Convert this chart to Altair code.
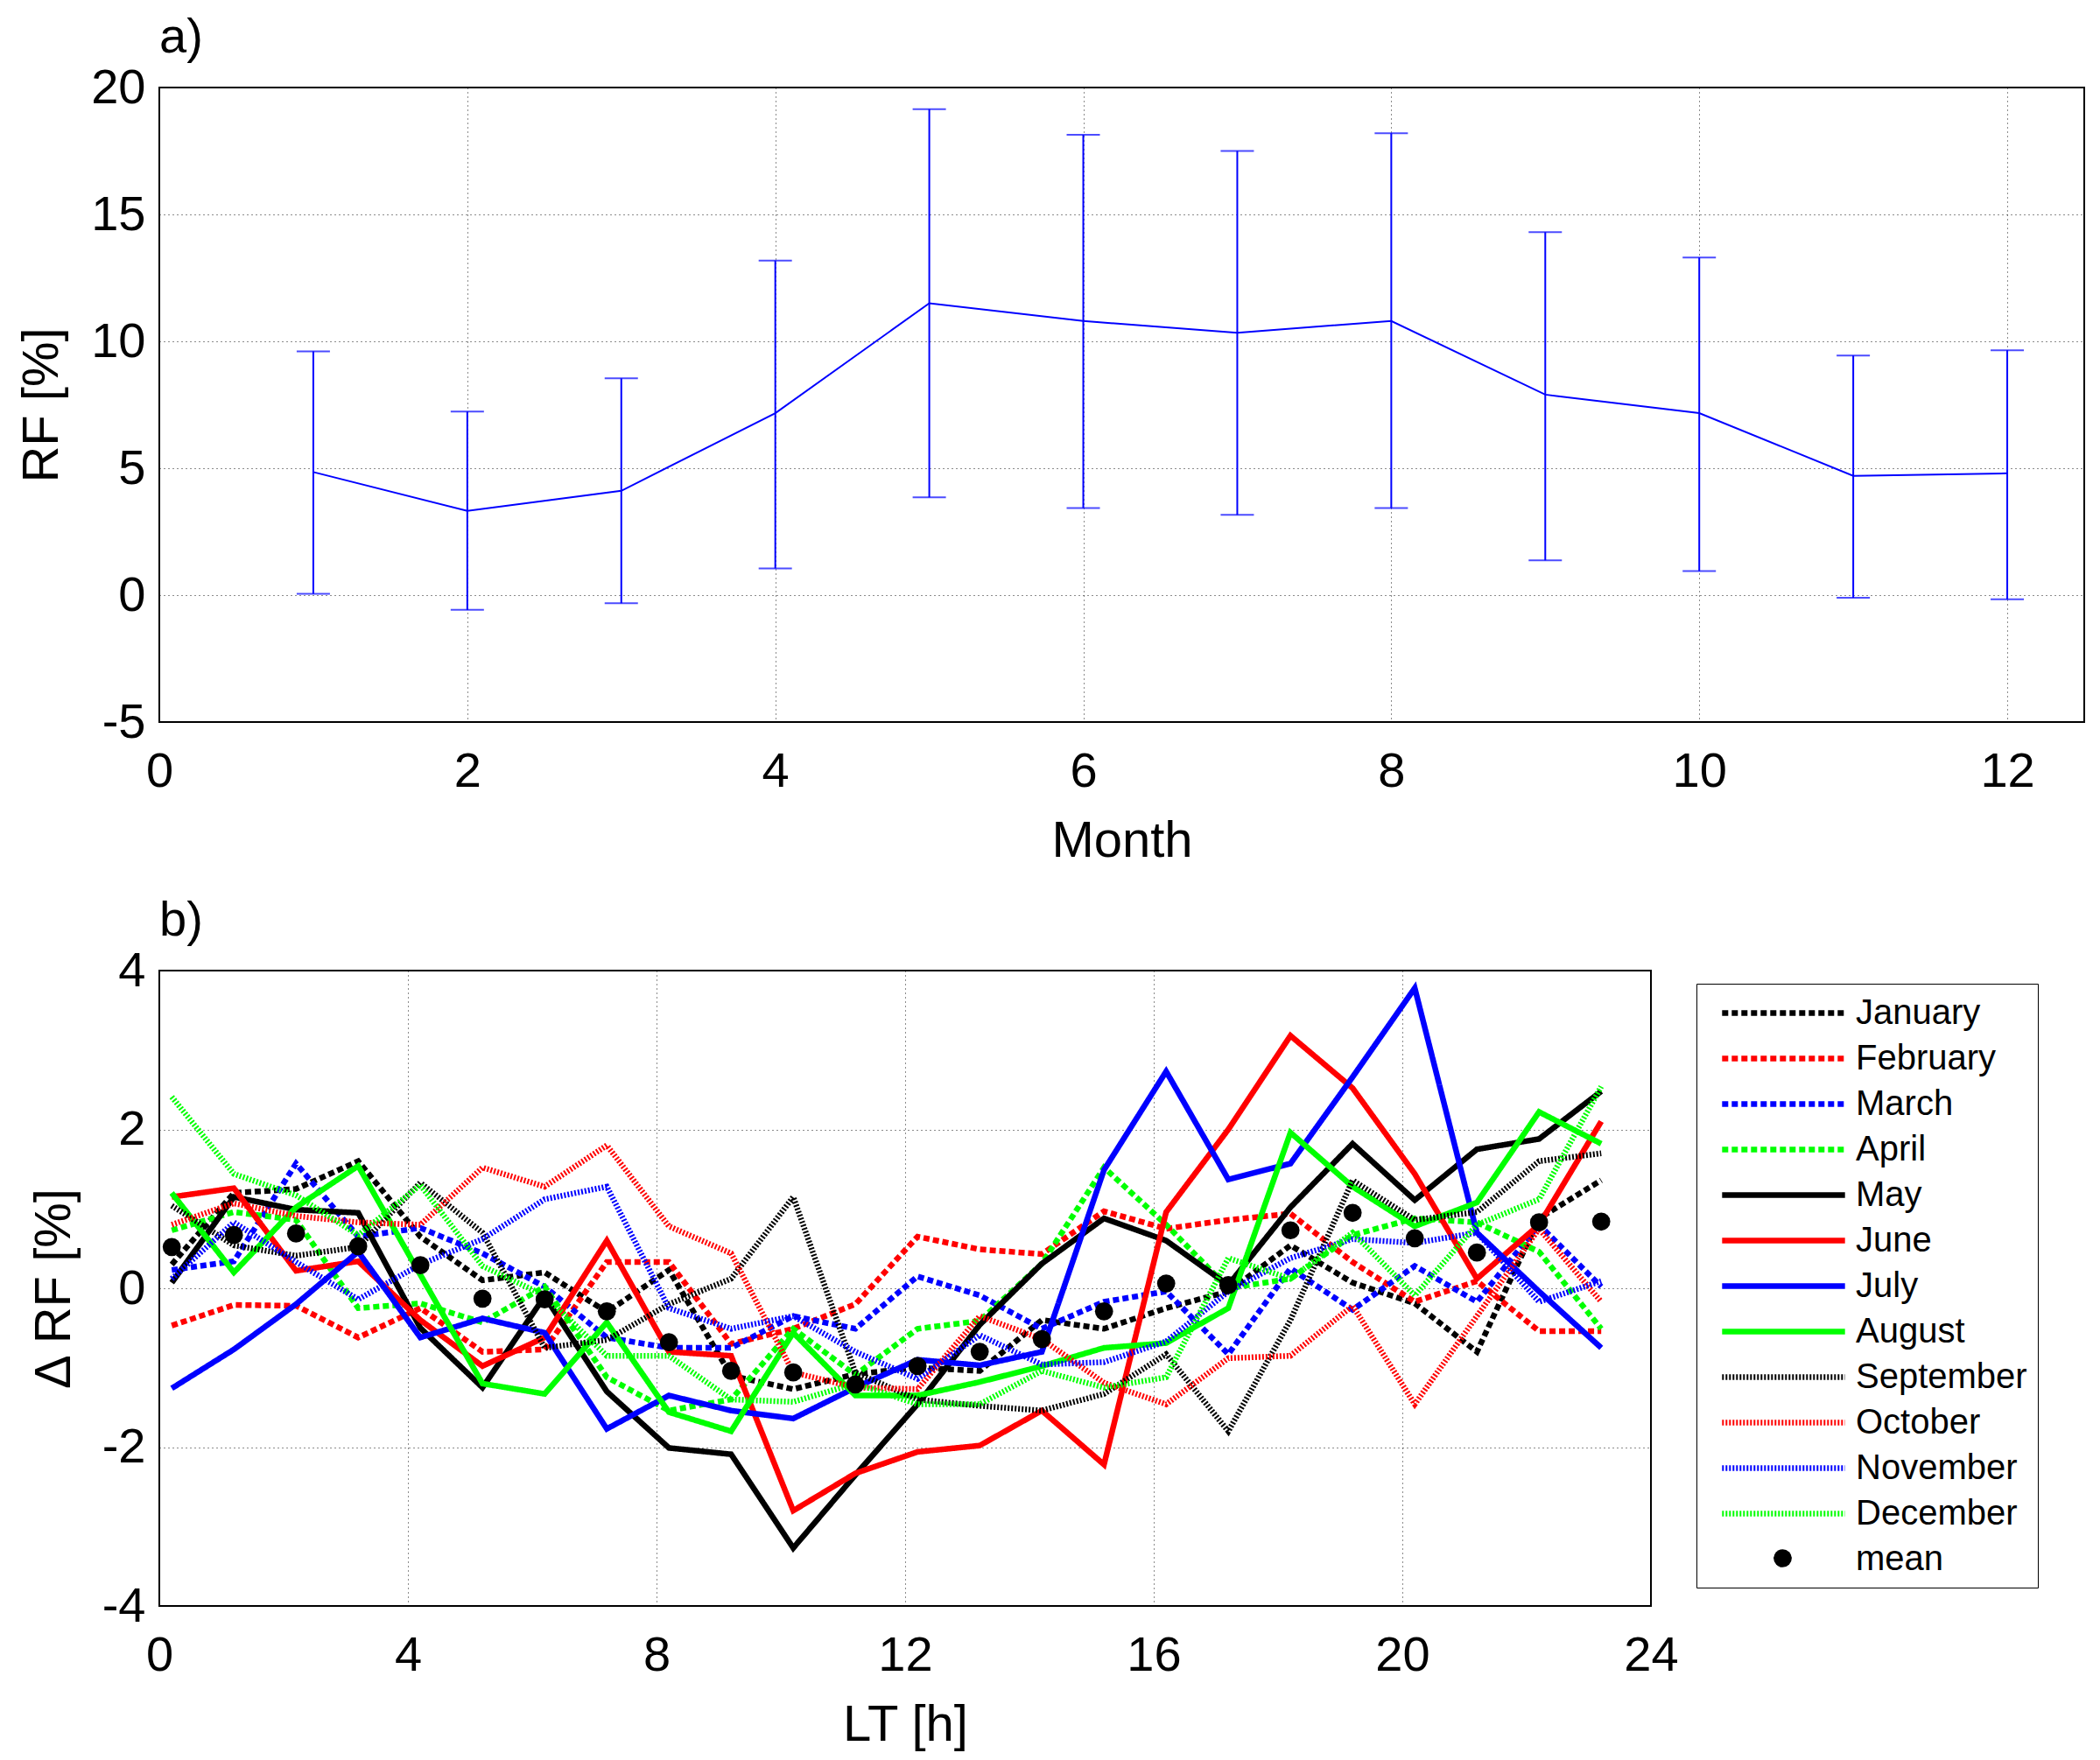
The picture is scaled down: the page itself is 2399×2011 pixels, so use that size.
import altair as alt
import pandas as pd

FONT = "Liberation Sans"

# ---------------- panel a data ----------------
months = [1, 2, 3, 4, 5, 6, 7, 8, 9, 10, 11, 12]
rf_mean = [4.85, 3.32, 4.11, 7.17, 11.5, 10.8, 10.34, 10.8, 7.9, 7.17, 4.7, 4.8]
rf_low = [0.05, -0.58, -0.32, 1.05, 3.85, 3.43, 3.16, 3.43, 1.37, 0.95, -0.1, -0.16]
rf_high = [9.6, 7.23, 8.54, 13.18, 19.15, 18.14, 17.5, 18.2, 14.3, 13.3, 9.44, 9.65]

# ---------------- panel b data ----------------
hours = [0.2, 1.2, 2.2, 3.2, 4.2, 5.2, 6.2, 7.2, 8.2, 9.2, 10.2, 11.2,
         12.2, 13.2, 14.2, 15.2, 16.2, 17.2, 18.2, 19.2, 20.2, 21.2, 22.2, 23.2]
jan = [0.3, 1.2, 1.25, 1.6, 0.65, 0.1, 0.2, -0.3, 0.23, -1.1, -1.27, -1.08,
       -1.0, -1.04, -0.4, -0.51, -0.25, -0.04, 0.54, 0.07, -0.19, -0.8, 0.88, 1.36]
feb = [-0.47, -0.21, -0.22, -0.62, -0.25, -0.8, -0.77, 0.33, 0.33, -0.7, -0.51, -0.2,
       0.65, 0.49, 0.43, 0.97, 0.75, 0.86, 0.94, 0.33, -0.17, 0.09, -0.54, -0.54]
mar = [0.23, 0.34, 1.57, 0.65, 0.76, 0.44, 0.02, -0.62, -0.75, -0.75, -0.35, -0.51,
       0.15, -0.09, -0.51, -0.17, -0.04, -0.83, 0.25, -0.27, 0.28, -0.17, 0.8, 0.02]
apr = [0.73, 0.96, 0.86, -0.25, -0.19, -0.43, 0.02, -1.12, -1.54, -1.4, -0.51, -1.09,
       -0.51, -0.41, 0.31, 1.52, 0.8, 0.0, 0.12, 0.67, 0.88, 0.83, 0.46, -0.51]
may = [0.07, 1.15, 0.99, 0.95, -0.5, -1.25, -0.1, -1.3, -2.01, -2.09, -3.27, -2.35,
       -1.46, -0.46, 0.31, 0.88, 0.6, 0.04, 1.02, 1.82, 1.11, 1.75, 1.88, 2.48]
jun = [1.15, 1.26, 0.22, 0.34, -0.4, -0.98, -0.62, 0.6, -0.8, -0.85, -2.8, -2.33,
       -2.06, -1.98, -1.54, -2.22, 0.96, 2.0, 3.18, 2.52, 1.44, 0.12, 0.8, 2.1]
jul = [-1.26, -0.77, -0.2, 0.46, -0.62, -0.38, -0.56, -1.77, -1.35, -1.54, -1.64, -1.25,
       -0.9, -0.97, -0.8, 1.49, 2.73, 1.37, 1.57, 2.66, 3.78, 0.7, -0.04, -0.75]
aug = [1.2, 0.2, 1.02, 1.54, 0.17, -1.2, -1.33, -0.43, -1.56, -1.8, -0.56, -1.35,
       -1.35, -1.18, -0.98, -0.75, -0.69, -0.25, 1.96, 1.28, 0.78, 1.08, 2.22, 1.82]
sep = [1.04, 0.54, 0.41, 0.52, 1.33, 0.7, -0.75, -0.65, -0.2, 0.12, 1.15, -1.06,
       -1.4, -1.48, -1.54, -1.33, -0.83, -1.8, -0.4, 1.36, 0.86, 0.96, 1.6, 1.7]
oct_ = [0.8, 1.07, 0.91, 0.83, 0.8, 1.52, 1.28, 1.8, 0.78, 0.44, -1.06, -1.25,
        -1.27, -0.35, -0.64, -1.19, -1.46, -0.88, -0.85, -0.22, -1.46, -0.35, 0.75, -0.17]
nov = [0.12, 0.83, 0.33, -0.14, 0.3, 0.62, 1.12, 1.28, -0.25, -0.51, -0.35, -0.8,
       -1.14, -0.59, -0.96, -0.93, -0.67, -0.04, 0.38, 0.62, 0.57, 0.7, -0.17, 0.09]
dec = [2.41, 1.44, 1.17, 0.67, 1.3, 0.28, -0.09, -0.85, -0.85, -1.4, -1.43, -1.2,
       -1.46, -1.46, -1.04, -1.25, -1.12, 0.38, 0.12, 0.7, -0.09, 0.8, 1.12, 2.54]
mean_vals = [0.52, 0.67, 0.69, 0.53, 0.29, -0.13, -0.14, -0.29, -0.68, -1.04, -1.06, -1.21,
             -0.98, -0.8, -0.64, -0.29, 0.06, 0.04, 0.73, 0.95, 0.63, 0.45, 0.83, 0.84]

month_names = ["January", "February", "March", "April", "May", "June", "July",
               "August", "September", "October", "November", "December"]
series_vals = [jan, feb, mar, apr, may, jun, jul, aug, sep, oct_, nov, dec]
legend_names = month_names + ["mean"]

# styles
line_colors = ["black", "#ff0000", "#0000ff", "#00ff00"] * 3 + ["rgba(0,0,0,0)"]
line_dashes = [[7, 4]] * 4 + [[1, 0]] * 4 + [[2, 2]] * 4 + [[1, 0]]
line_widths = [6.5] * 4 + [7] * 4 + [2.5] * 4 + [1]
line_opac = [1] * 8 + [0.65] * 4 + [0]

# ---------------- tables ----------------
df_a = pd.DataFrame({"month": months, "rf": rf_mean, "lo": rf_low, "hi": rf_high})
rows = []
for name, vals in zip(month_names, series_vals):
    for h, v in zip(hours, vals):
        rows.append({"hour": h, "value": v, "series": name})
df_b = pd.DataFrame(rows)
df_mean = pd.DataFrame({"hour": hours, "value": mean_vals, "kind": ["mean"] * len(hours)})

LABEL_EXPR = "'' + datum.value"
GRID = dict(grid=True, gridDash=[1, 4], gridColor="black", gridOpacity=0.9, gridWidth=1)


def xaxis(title, values):
    return alt.Axis(values=values, title=title, ticks=False, domain=False, labelFlush=False,
                    labelOverlap=False, labelFont=FONT, labelFontSize=56, labelColor="black",
                    labelBaseline="alphabetic", labelPadding=73, labelExpr=LABEL_EXPR,
                    titleFont=FONT, titleFontSize=58, titleFontWeight="normal", titleColor="black",
                    titleBaseline="alphabetic", titleY=153, **GRID)


def yaxis(title, values, tx, h):
    return alt.Axis(values=values, title=title, ticks=False, domain=False, labelFlush=False,
                    labelOverlap=False, labelFont=FONT, labelFontSize=56, labelColor="black",
                    labelPadding=16, labelExpr=LABEL_EXPR,
                    titleFont=FONT, titleFontSize=58, titleFontWeight="normal", titleColor="black",
                    titleAngle=270, titleX=tx, titleY=h / 2, titleAlign="center",
                    titleBaseline="middle", **GRID)


def ptitle(t):
    return alt.TitleParams(t, anchor="start", frame="group", offset=-44, baseline="alphabetic",
                           font=FONT, fontSize=56, fontWeight="normal", color="black")


# ---------------- panel a ----------------
WA, HA = 2199, 725
xa = alt.X("month:Q", scale=alt.Scale(domain=[0, 12.5], nice=False),
           axis=xaxis("Month", [0, 2, 4, 6, 8, 10, 12]))
ya_axis = yaxis("RF [%]", [-5, 0, 5, 10, 15, 20], -134, HA)
ya_scale = alt.Scale(domain=[-5, 20], nice=False)

base_a = alt.Chart(df_a)
line_a = base_a.mark_line(color="#0000ff", strokeWidth=2).encode(
    x=xa, y=alt.Y("rf:Q", scale=ya_scale, axis=ya_axis))
bar_a = base_a.mark_rule(color="#0000ff", strokeWidth=2).encode(
    x="month:Q", y="lo:Q", y2="hi:Q")
cap_lo = base_a.mark_tick(color="#0000ff", orient="horizontal", size=38, thickness=2).encode(
    x="month:Q", y="lo:Q")
cap_hi = base_a.mark_tick(color="#0000ff", orient="horizontal", size=38, thickness=2).encode(
    x="month:Q", y="hi:Q")
panel_a = alt.layer(line_a, bar_a, cap_lo, cap_hi).properties(
    width=WA, height=HA, title=ptitle("a)"))

# ---------------- panel b ----------------
WB, HB = 1704, 726
LEG_Y = 1024


def leg():
    return alt.Legend(orient="none", legendX=1756, legendY=LEG_Y, title=None, padding=12,
                      rowPadding=10, labelFont=FONT, labelFontSize=40, labelColor="black",
                      labelLimit=500, symbolType="M-3.9,0H3.9", symbolSize=1296,
                      symbolOffset=66, labelOffset=61, strokeColor="black", fillColor="white",
                      symbolLimit=20)


xb = alt.X("hour:Q", scale=alt.Scale(domain=[0, 24], nice=False),
           axis=xaxis("LT [h]", [0, 4, 8, 12, 16, 20, 24]))
yb_scale = alt.Scale(domain=[-4, 4], nice=False)
yb_axis = yaxis("Δ RF [%]", [-4, -2, 0, 2, 4], -120, HB)

lines_b = alt.Chart(df_b).mark_line().encode(
    x=xb,
    y=alt.Y("value:Q", scale=yb_scale, axis=yb_axis),
    color=alt.Color("series:N", scale=alt.Scale(domain=legend_names, range=line_colors), legend=leg()),
    strokeDash=alt.StrokeDash("series:N", scale=alt.Scale(domain=legend_names, range=line_dashes), legend=leg()),
    strokeWidth=alt.StrokeWidth("series:N", scale=alt.Scale(domain=legend_names, range=line_widths), legend=leg()),
    opacity=alt.Opacity("series:N", scale=alt.Scale(domain=legend_names, range=line_opac), legend=leg()),
)

dots_b = alt.Chart(df_mean).mark_point(filled=True, size=430, color="black", opacity=1).encode(
    x="hour:Q", y="value:Q",
    shape=alt.Shape("kind:N", scale=alt.Scale(domain=["mean"], range=["circle"]),
                    legend=alt.Legend(orient="none", legendX=1844, legendY=LEG_Y + 646, title=None,
                                      padding=0, labelExpr="''", symbolSize=430,
                                      symbolFillColor="black", symbolStrokeColor="black",
                                      symbolStrokeWidth=0, symbolOpacity=1)),
)

panel_b = alt.layer(lines_b, dots_b).properties(width=WB, height=HB, title=ptitle("b)"))

chart = alt.vconcat(panel_a, panel_b, spacing=32).properties(
    padding={"left": 10, "top": 6, "right": 5, "bottom": 5}, background="white"
).configure_view(stroke="black", strokeWidth=2)

chart.save("out.html", embed_options={"renderer": "svg", "actions": False})
